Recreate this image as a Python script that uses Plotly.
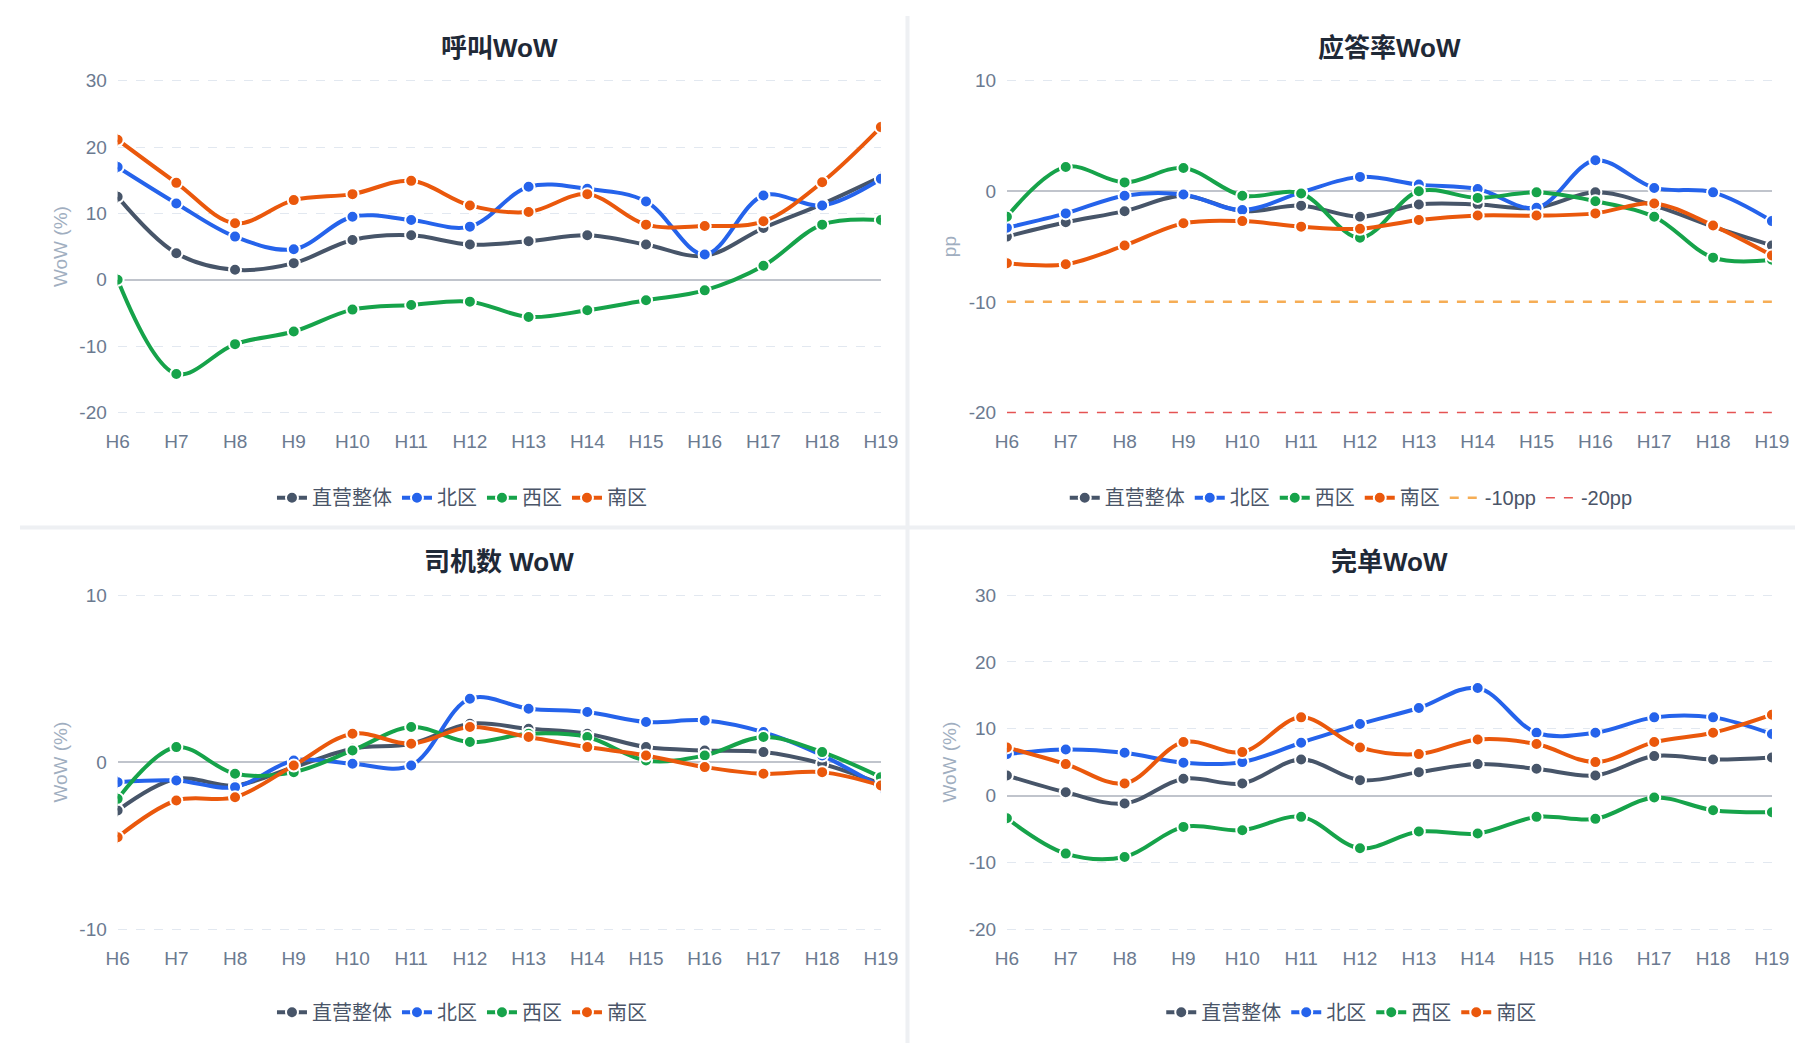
import plotly.graph_objects as go

hours = ["H%d" % h for h in range(6, 20)]
series_names = ["直营整体", "北区", "西区", "南区"]
colors = ["#475569", "#2563eb", "#16a34a", "#ea580c"]

call_wow = [
    [12.5, 4, 1.5, 2.5, 6, 6.7, 5.3, 5.8, 6.7, 5.3, 3.6, 7.8, 11.4, 15.5],
    [17, 11.5, 6.5, 4.6, 9.5, 9, 8, 14, 13.7, 11.8, 3.8, 12.7, 11.2, 15.2],
    [0, -14.2, -9.7, -7.8, -4.5, -3.8, -3.3, -5.6, -4.6, -3.1, -1.6, 2.1, 8.3, 9],
    [21.1, 14.6, 8.5, 12, 12.9, 14.9, 11.2, 10.2, 12.9, 8.3, 8.1, 8.8, 14.7, 23],
]
answer_wow = [
    [-4.1, -2.8, -1.8, -0.4, -1.8, -1.3, -2.3, -1.2, -1.2, -1.5, -0.1, -1.3, -3.2, -4.9],
    [-3.3, -2, -0.4, -0.3, -1.7, -0.1, 1.3, 0.6, 0.2, -1.5, 2.8, 0.3, -0.1, -2.7],
    [-2.3, 2.2, 0.8, 2.1, -0.4, -0.2, -4.2, 0, -0.6, -0.1, -0.9, -2.3, -6, -6.2],
    [-6.5, -6.6, -4.9, -2.9, -2.7, -3.2, -3.4, -2.6, -2.2, -2.2, -2, -1.1, -3.1, -5.8],
]
driver_wow = [
    [-2.9, -1, -1.4, -0.3, 0.8, 1.1, 2.3, 2, 1.7, 0.9, 0.7, 0.6, -0.1, -1.3],
    [-1.2, -1.1, -1.5, 0.1, -0.1, -0.2, 3.8, 3.2, 3, 2.4, 2.5, 1.8, 0.4, -1.5],
    [-2.2, 0.9, -0.7, -0.6, 0.7, 2.1, 1.2, 1.7, 1.5, 0.1, 0.4, 1.5, 0.6, -0.9],
    [-4.5, -2.3, -2.1, -0.2, 1.7, 1.1, 2.1, 1.5, 0.9, 0.4, -0.3, -0.7, -0.6, -1.4],
]
finish_wow = [
    [3, 0.5, -1.2, 2.5, 1.8, 5.4, 2.3, 3.5, 4.7, 4, 3, 5.9, 5.4, 5.7],
    [6.2, 6.9, 6.4, 4.9, 5, 7.9, 10.7, 13.1, 16.1, 9.4, 9.4, 11.7, 11.7, 9.2],
    [-3.4, -8.7, -9.2, -4.7, -5.2, -3.2, -7.9, -5.4, -5.7, -3.2, -3.5, -0.3, -2.2, -2.5],
    [7.2, 4.7, 1.8, 8, 6.5, 11.7, 7.2, 6.2, 8.4, 7.7, 5, 8, 9.4, 12.1],
]
ref_levels = [-10, -20]
ref_names = ["-10pp", "-20pp"]
ref_colors = ["#f6ad55", "#e55353"]

panels = [
    dict(title="呼叫WoW", data=call_wow, x=(0.055, 0.485), y=(0.612, 0.939), rng=[-20, 30], yt="WoW (%)", leg="legend", lx=0.249, ly=0.531),
    dict(title="应答率WoW", data=answer_wow, x=(0.556, 0.987), y=(0.612, 0.939), rng=[-20, 10], yt="pp", leg="legend2", lx=0.75, ly=0.531),
    dict(title="司机数 WoW", data=driver_wow, x=(0.055, 0.485), y=(0.109, 0.438), rng=[-10, 10], yt="WoW (%)", leg="legend3", lx=0.249, ly=0.030),
    dict(title="完单WoW", data=finish_wow, x=(0.556, 0.987), y=(0.109, 0.438), rng=[-20, 30], yt="WoW (%)", leg="legend4", lx=0.75, ly=0.030),
]

fig = go.Figure()
layout = {}
annotations = []
for i, p in enumerate(panels):
    n = "" if i == 0 else str(i + 1)
    xa, ya = "x" + n, "y" + n
    for s, name in enumerate(series_names):
        fig.add_trace(go.Scatter(
            x=hours, y=p["data"][s], name=name, mode="lines+markers",
            line=dict(color=colors[s], width=4, shape="spline", smoothing=1),
            marker=dict(size=12, color=colors[s], line=dict(color="white", width=2)),
            xaxis=xa, yaxis=ya, legend=p["leg"]))
    if i == 1:
        for lv, nm, c, w in zip(ref_levels, ref_names, ref_colors, [2.5, 1.5]):
            fig.add_trace(go.Scatter(
                x=hours, y=[lv] * len(hours), name=nm, mode="lines",
                line=dict(color=c, width=w, dash="dash"),
                xaxis=xa, yaxis=ya, legend=p["leg"]))
    lo, hi = p["rng"]
    tv = list(range(lo, hi + 1, 10))
    span = hi - lo
    layout["xaxis" + n] = dict(domain=list(p["x"]), anchor=ya, range=[0, 13], type="category",
                               showgrid=False, zeroline=False, showline=False, ticks="",
                               ticklabelstandoff=14,
                               tickfont=dict(size=19, color="#6b7a90"))
    layout["yaxis" + n] = dict(domain=list(p["y"]), anchor=xa,
                               range=[lo - span * 0.006, hi + span * 0.006],
                               tickvals=tv, ticktext=[str(v) for v in tv],
                               showgrid=True, gridcolor="#e2e8f0", griddash="dash",
                               zeroline=True, zerolinecolor="#c0c4cc", zerolinewidth=1.5,
                               ticks="outside", ticklen=6, tickcolor="rgba(0,0,0,0)",
                               tickfont=dict(size=19, color="#6b7a90"),
                               title=dict(text=p["yt"], font=dict(size=19, color="#a0aec0"), standoff=6))
    layout[p["leg"]] = dict(orientation="h", x=p["lx"], y=p["ly"], xanchor="center", yanchor="middle",
                            font=dict(size=20, color="#4a5568"), bgcolor="rgba(0,0,0,0)")
    annotations.append(dict(text="<b>%s</b>" % p["title"], xref="paper", yref="paper",
                            x=(p["x"][0] + p["x"][1]) / 2, y=p["y"][1] + 0.030,
                            xanchor="center", yanchor="middle", showarrow=False,
                            font=dict(size=26, color="#1f2937")))

fig.update_layout(
    width=1804, height=1044, margin=dict(l=0, r=0, t=0, b=0),
    paper_bgcolor="white", plot_bgcolor="white",
    font=dict(family="Liberation Sans, Noto Sans CJK SC, sans-serif"),
    annotations=annotations,
    shapes=[
        dict(type="line", xref="paper", yref="paper", x0=0.5, x1=0.5, y0=0, y1=1, line=dict(color="#eef0f3", width=4)),
        dict(type="line", xref="paper", yref="paper", x0=0, x1=1, y0=0.502, y1=0.502, line=dict(color="#eef0f3", width=4)),
    ],
    **layout)
fig.write_html("out.html")
